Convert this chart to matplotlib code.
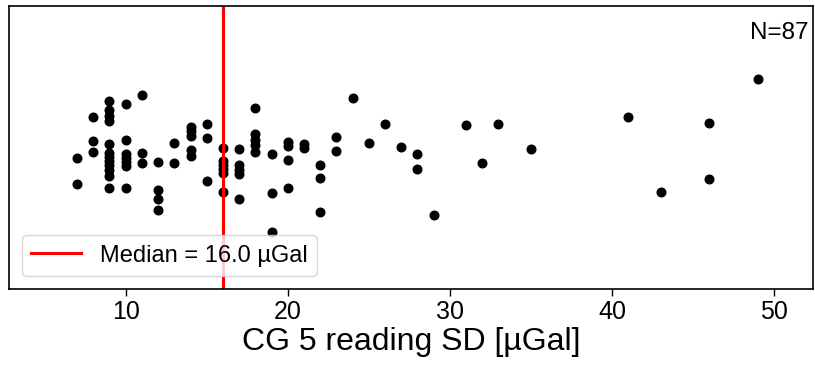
import matplotlib
matplotlib.use("Agg")
import matplotlib.pyplot as plt
import numpy as np

plt.rcParams['font.family'] = ['Liberation Sans', 'DejaVu Sans']

# reading SD values [µGal] and the strip-plot jitter
sd_values = [7, 7,
             8, 8, 8,
             9, 9, 9, 9, 9, 9, 9, 9, 9, 9, 9, 9,
             10, 10, 10, 10, 10, 10, 10,
             11, 11, 11,
             12, 12, 12, 12,
             13, 13,
             14, 14, 14, 14, 14,
             15, 15, 15,
             16, 16, 16, 16, 16, 16,
             17, 17, 17, 17, 17,
             18, 18, 18, 18, 18,
             19, 19, 19,
             20, 20, 20, 20,
             21, 21,
             22, 22, 22,
             23, 23,
             24, 25, 26, 27,
             28, 28,
             29, 31, 32, 33, 35, 41, 43,
             46, 46,
             49]
jitter = [0.037, 0.129,
          -0.108, -0.023, 0.016,
          -0.164, -0.133, -0.111, -0.094, -0.012, 0.019, 0.034, 0.048, 0.062, 0.080, 0.101, 0.143,
          -0.154, -0.027, 0.023, 0.037, 0.051, 0.065, 0.143,
          -0.186, 0.019, 0.055,
          0.051, 0.150, 0.182, 0.221,
          -0.016, 0.055,
          -0.072, -0.058, -0.041, 0.009, 0.030,
          -0.083, -0.034, 0.118,
          0.002, 0.048, 0.062, 0.076, 0.090, 0.157,
          0.005, 0.062, 0.080, 0.094, 0.182,
          -0.140, -0.048, -0.027, -0.009, 0.016,
          0.023, 0.161, 0.299,
          -0.019, -0.005, 0.044, 0.143,
          -0.012, 0.002,
          0.062, 0.108, 0.228,
          -0.037, 0.012,
          -0.175, -0.016, -0.083, -0.002,
          0.023, 0.076,
          0.239, -0.080, 0.055, -0.083, 0.005, -0.108, 0.157,
          -0.087, 0.111,
          -0.242]

median_value = 16.0
n_label = "N=87"
xlabel = "CG 5 reading SD [µGal]"

fig = plt.figure(figsize=(8.15, 3.79), dpi=100)
ax = fig.add_axes([0.011, 0.2375, 0.9865, 0.7465])

ax.plot(sd_values, jitter, 'o', color='black', markersize=6.2, linestyle='none')
ax.axvline(median_value, color='red', linewidth=2.2,
           label=f"Median = {median_value:.1f} µGal")

ax.set_xlim(2.8, 52.4)
ax.set_ylim(0.5, -0.5)
ax.set_yticks([])
ax.set_xticks([10, 20, 30, 40, 50])
ax.tick_params(axis='x', labelsize=18, length=5, width=1, pad=3)
ax.set_xlabel(xlabel, fontsize=23, labelpad=2)
for s in ax.spines.values():
    s.set_linewidth(1.2)

ax.text(0.994, 0.883, n_label, transform=ax.transAxes, ha='right', va='baseline', fontsize=17.5)
ax.legend(loc='lower left', fontsize=17, handlelength=2.1,
          bbox_to_anchor=(0.0, 0.0), borderaxespad=0.55)

fig.savefig("out.png", dpi=100)
